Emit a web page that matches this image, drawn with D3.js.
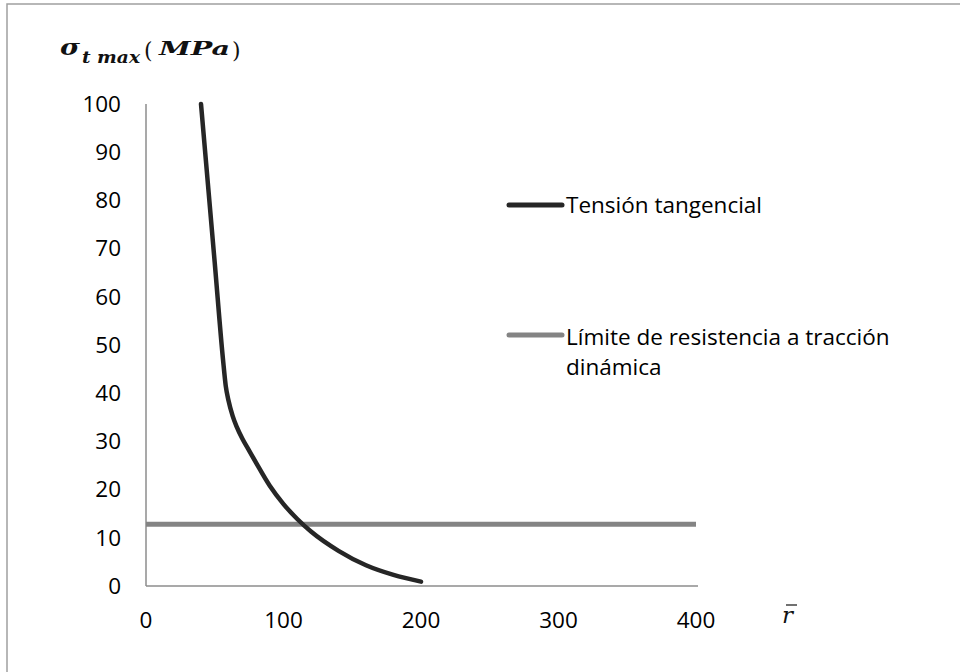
<!DOCTYPE html>
<html><head><meta charset="utf-8">
<script src="https://cdn.jsdelivr.net/npm/d3@7/dist/d3.min.js"></script>
<style>body{margin:0;background:#fff}svg{display:block}</style>
</head><body>
<svg id="c" width="960" height="672"></svg>
<script>
const rValues = [40, 50, 56, 58, 60, 63, 66, 70, 75, 80, 90, 100, 110, 120, 140, 160, 180, 200];
const tensionValues = [100, 67, 47, 41.5, 38.5, 35.3, 33, 30.6, 28.1, 25.6, 20.8, 17, 13.9, 11.3, 7.3, 4.3, 2.3, 0.9];
const limitR = [0, 400];
const limitValues = [12.8, 12.8];
const xTicks = [0, 100, 200, 300, 400];
const yTicks = [0, 10, 20, 30, 40, 50, 60, 70, 80, 90, 100];
const seriesNames = ["Tensión tangencial", "Límite de resistencia a tracción", "dinámica"];

const svg = d3.select("#c");
const font = "'Open Sans', sans-serif";

// outer border
svg.append("path").attr("d", "M7,672 V4 H960").attr("fill", "none").attr("stroke", "#a0a0a0").attr("stroke-width", 1.5);

const x = d3.scaleLinear().domain([0, 400]).range([146, 696]);
const y = d3.scaleLinear().domain([0, 100]).range([586, 104]);

// axes lines
svg.append("line").attr("x1", x(0)).attr("x2", x(0)).attr("y1", y(100)).attr("y2", y(0))
  .attr("stroke", "#8c8c8c").attr("stroke-width", 1.5);
svg.append("line").attr("x1", x(0)).attr("x2", x(400) + 2).attr("y1", y(0)).attr("y2", y(0))
  .attr("stroke", "#8c8c8c").attr("stroke-width", 1.5);

// tick labels
svg.selectAll(".yt").data(yTicks).enter().append("text")
  .attr("x", 121).attr("y", d => y(d)).attr("dy", "0.35em")
  .attr("text-anchor", "end").attr("font-family", font).attr("font-size", 22.5).attr("fill", "#000")
  .text(d => d);
svg.selectAll(".xt").data(xTicks).enter().append("text")
  .attr("x", d => x(d)).attr("y", 628)
  .attr("text-anchor", "middle").attr("font-family", font).attr("font-size", 22.5).attr("fill", "#000")
  .text(d => d);

// limit line
const limitData = limitR.map((r, i) => [r, limitValues[i]]);
svg.append("path").datum(limitData)
  .attr("d", d3.line().x(d => x(d[0])).y(d => y(d[1])))
  .attr("fill", "none").attr("stroke", "#848484").attr("stroke-width", 5);

// tension curve
const tData = rValues.map((r, i) => [r, tensionValues[i]]);
svg.append("path").datum(tData)
  .attr("d", d3.line().x(d => x(d[0])).y(d => y(d[1])).curve(d3.curveMonotoneX))
  .attr("fill", "none").attr("stroke", "#262626").attr("stroke-width", 4.5)
  .attr("stroke-linecap", "round").attr("stroke-linejoin", "round");

// legend
svg.append("line").attr("x1", 509).attr("x2", 562).attr("y1", 205).attr("y2", 205)
  .attr("stroke", "#262626").attr("stroke-width", 5).attr("stroke-linecap", "round");
svg.append("text").attr("x", 566).attr("y", 213).attr("font-family", font).attr("font-size", 22.5)
  .attr("fill", "#000").text(seriesNames[0]);
svg.append("line").attr("x1", 509).attr("x2", 562).attr("y1", 335).attr("y2", 335)
  .attr("stroke", "#848484").attr("stroke-width", 5).attr("stroke-linecap", "round");
svg.append("text").attr("x", 566).attr("y", 345).attr("font-family", font).attr("font-size", 22.5)
  .attr("fill", "#000").text(seriesNames[1]);
svg.append("text").attr("x", 566).attr("y", 375).attr("font-family", font).attr("font-size", 22.5)
  .attr("fill", "#000").text(seriesNames[2]);

// y-axis title
const serif = "'DejaVu Serif', serif";
svg.append("text").attr("x", 60).attr("y", 55).attr("font-family", serif).attr("font-weight", "bold")
  .attr("font-style", "italic").attr("font-size", 23).attr("fill", "#111")
  .attr("textLength", 20).attr("lengthAdjust", "spacingAndGlyphs").text("σ");
svg.append("text").attr("x", 82).attr("y", 63).attr("font-family", serif).attr("font-weight", "bold")
  .attr("font-style", "italic").attr("font-size", 16).attr("fill", "#111")
  .attr("textLength", 58).attr("lengthAdjust", "spacingAndGlyphs").text("t max");
svg.append("text").attr("x", 144).attr("y", 58).attr("font-family", serif)
  .attr("font-size", 22).attr("fill", "#111").text("(");
svg.append("text").attr("x", 159).attr("y", 55).attr("font-family", serif).attr("font-weight", "bold")
  .attr("font-style", "italic").attr("font-size", 19).attr("fill", "#111")
  .attr("textLength", 71).attr("lengthAdjust", "spacingAndGlyphs").text("MPa");
svg.append("text").attr("x", 232).attr("y", 58).attr("font-family", serif)
  .attr("font-size", 22).attr("fill", "#111").text(")");

// x-axis title r̄
svg.append("text").attr("x", 782).attr("y", 623).attr("font-family", serif)
  .attr("font-style", "italic").attr("font-size", 23).attr("fill", "#111").text("r");
svg.append("line").attr("x1", 786).attr("x2", 797).attr("y1", 605).attr("y2", 605)
  .attr("stroke", "#111").attr("stroke-width", 1.2);
</script>
</body></html>
